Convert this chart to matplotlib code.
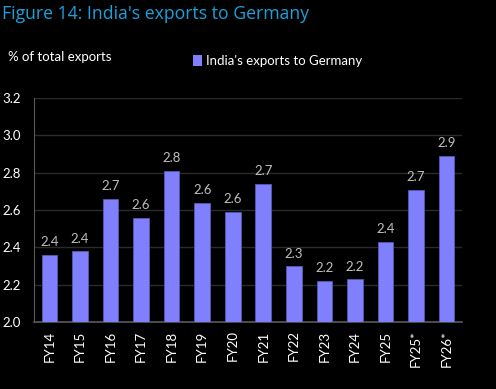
import matplotlib.pyplot as plt
from matplotlib.patches import Patch

years = ["FY14", "FY15", "FY16", "FY17", "FY18", "FY19", "FY20",
         "FY21", "FY22", "FY23", "FY24", "FY25", "FY25*", "FY26*"]
share = [2.36, 2.38, 2.66, 2.56, 2.81, 2.64, 2.59,
         2.74, 2.30, 2.22, 2.23, 2.43, 2.71, 2.89]
yticks = [2.0, 2.2, 2.4, 2.6, 2.8, 3.0, 3.2]

plt.rcParams['font.family'] = ['Lato', 'DejaVu Sans']

fig = plt.figure(figsize=(4.96, 3.89), dpi=100, facecolor='black')
ax = fig.add_axes([0.069, 0.172, 0.862, 0.576], facecolor='black')

x = range(len(years))
ax.bar(x, share, width=0.51, color='#8080FF', edgecolor='#5a5ab0', linewidth=0.6, zorder=3)

for xi, v in zip(x, share):
    ax.text(xi, v + 0.035, f"{v:.1f}", ha='center', va='bottom',
            color='#BFBFBF', fontsize=9.5)

ax.set_ylim(2.0, 3.2)
ax.set_xlim(-0.5, len(years) - 0.5)
ax.set_yticks(yticks)
ax.set_yticklabels([f"{t:.1f}" for t in yticks], color='white', fontsize=9.5, ha='left')
ax.tick_params(axis='y', length=0, pad=23)
ax.set_xticks(list(x))
ax.set_xticklabels(years, rotation=90, color='white', fontsize=9.5)
ax.tick_params(axis='x', length=0, pad=6)

ax.grid(axis='y', color='#2a2a2a', linewidth=1, zorder=0)
for s in ['top', 'right']:
    ax.spines[s].set_visible(False)
ax.spines['left'].set_color('#595959')
ax.spines['bottom'].set_color('#595959')
ax.spines['bottom'].set_linewidth(1.2)

fig.text(0.004, 0.965, "Figure 14: India's exports to Germany", color='#1BA1DB',
         fontsize=12.7, ha='left', va='center', family=['Open Sans', 'DejaVu Sans'])
fig.text(0.016, 0.853, "% of total exports", color='white', fontsize=9.5, ha='left', va='center')

leg = fig.legend(handles=[Patch(facecolor='#8080FF', label="India's exports to Germany")],
                 loc='center left', bbox_to_anchor=(0.365, 0.843), frameon=False,
                 fontsize=9.5, handlelength=0.7, handleheight=0.9, handletextpad=0.3)
for t in leg.get_texts():
    t.set_color('white')

fig.savefig('out.png', dpi=100, facecolor='black')
